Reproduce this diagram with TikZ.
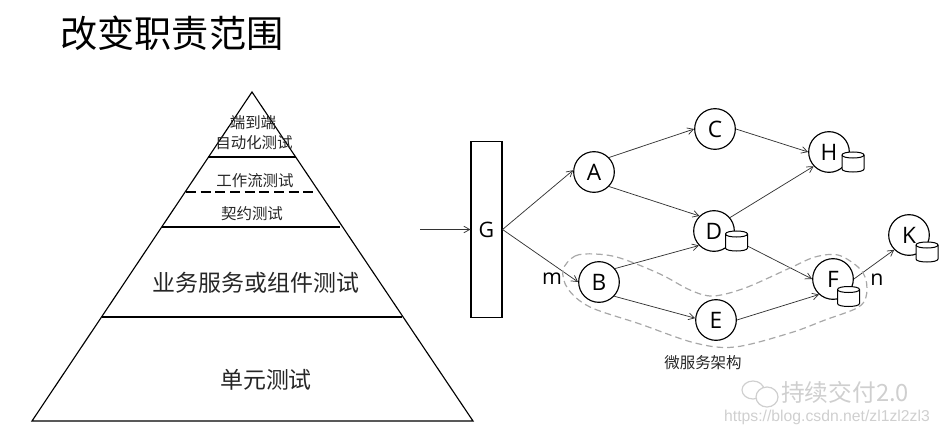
\documentclass[tikz,border=0pt]{standalone}
\usepackage{fontspec}
\setmainfont{Open Sans}
\newfontfamily\cjk{Noto Sans CJK SC}
\newfontfamily\wmfont{Liberation Sans}
\usetikzlibrary{arrows.meta}
\definecolor{edgec}{HTML}{333333}
\definecolor{blobc}{HTML}{A8A8A8}
\definecolor{wmc}{HTML}{CFCFCF}
\tikzset{
  x=0.75pt,y=-0.75pt,
  >={Straight Barb[length=4.5pt,width=5pt]},
  svc/.style={circle,draw=black,line width=0.85pt,fill=white,minimum size=30.5pt,inner sep=0pt,font=\fontsize{17}{19}\selectfont},
  edge/.style={draw=edgec,line width=0.55pt,->},
  store/.pic={
    \draw[black,line width=0.75pt,fill=white] (-11,-7) -- (-11,7) .. controls (-11,11) and (11,11) .. (11,7) -- (11,-7) .. controls (11,-11) and (-11,-11) .. (-11,-7) -- cycle;
    \draw[black,line width=0.75pt] (-11,-7) .. controls (-11,-3) and (11,-3) .. (11,-7);
  },
  tier/.style={draw=black,line width=1.6pt},
  lbl/.style={inner sep=0pt,text=black!85,font=\cjk\fontsize{11.6}{14}\selectfont},
  biglbl/.style={inner sep=0pt,text=black!85,font=\cjk\fontsize{17.2}{20}\selectfont},
  letter/.style={inner sep=0pt,font=\fontsize{16}{18}\selectfont},
}
\begin{document}
\begin{tikzpicture}
\useasboundingbox (0,0) rectangle (940,435);
% title
\node[inner sep=0pt,font=\cjk\fontsize{27.9}{30}\selectfont] (title) at (172,33) {改变职责范围};
% pyramid
\coordinate (apex) at (252,92);
\coordinate (bl) at (32,421);
\coordinate (br) at (473,421);
\draw[draw=black,line width=0.85pt,line join=miter] (apex) -- (bl) -- (br) -- cycle;
\coordinate (t1l) at (208,157); \coordinate (t1r) at (296,157);
\coordinate (t2l) at (186,192); \coordinate (t2r) at (318,192);
\coordinate (t3l) at (162,227); \coordinate (t3r) at (340,227);
\coordinate (t4l) at (102,317); \coordinate (t4r) at (402,317);
\draw[tier] (t1l) -- (t1r);
\draw[tier,dash pattern=on 7.5pt off 3.5pt] (t2l) -- (t2r);
\draw[tier] (t3l) -- (t3r);
\draw[tier] (t4l) -- (t4r);
\node[lbl] (p1a) at (253,123) {端到端};
\node[lbl] (p1b) at (254,143) {自动化测试};
\node[lbl] (p2) at (255,181) {工作流测试};
\node[lbl] (p3) at (252,214) {契约测试};
\node[biglbl] (p4) at (256,283) {业务服务或组件测试};
\node[biglbl] (p5) at (266,380) {单元测试};
% gateway
\node[draw=black,line width=0.85pt,fill=white,minimum width=23.2pt,minimum height=132.5pt,inner sep=0pt,font=\fontsize{16}{18}\selectfont] (G) at (486.5,229.5) {G};
\coordinate (in) at (420,229.5);
\draw[edge] (in) -- (G.west);
% services
\node[svc] (A) at (594,172) {A};
\node[svc] (C) at (715,129) {C};
\node[svc] (H) at (829,152) {H};
\node[svc] (D) at (714,231) {D};
\node[svc] (B) at (599,282) {B};
\node[svc] (E) at (716,320) {E};
\node[svc] (F) at (833,279) {F};
\node[svc] (K) at (909,235) {K};
% connectors
\draw[edge] (G.east) -- (A.175);
\draw[edge] (G.east) -- (B.180);
\draw[edge] (A.44) -- (C.180);
\draw[edge] (A.-44) -- (D.134);
\draw[edge] (C.0) -- (H.180);
\draw[edge] (D.40) -- (H.223);
\draw[edge] (B.40) -- (D.224);
\draw[edge] (B.-43) -- (E.175);
\draw[edge] (E.0) -- (F.228);
\draw[edge] (D.-22) -- (F.180);
\draw[edge] (F.east) -- (K.225);
% data stores
\pic at (853,162) {store};
\pic at (736.5,241) {store};
\pic at (848.5,296.5) {store};
\pic at (927,252) {store};
% boundary
\draw[blobc,line width=0.9pt,dash pattern=on 5pt off 3pt] plot[smooth cycle,tension=0.55] coordinates {
 (563,270) (575,256) (595,254) (620,258) (660,274) (690,290) (713,296) (745,288)
 (790,268) (815,257) (838,255) (858,267) (866,280) (866,297) (857,308)
 (825,320) (790,333) (735,347) (695,343) (640,324) (590,307) (568,289)};
% captions
\node[letter] (m) at (552,279) {m};
\node[letter] (n) at (877,280) {n};
\node[lbl] (cap) at (703,363) {微服务架构};
% watermark
\draw[wmc,line width=0.9pt] (753,390) ellipse (11 and 9);
\draw[wmc,line width=0.9pt,fill=white] (767,397) ellipse (11 and 10);
\node[inner sep=0pt,text=wmc,font=\cjk\fontsize{17.8}{22}\selectfont] (wm) at (845,392) {持续交付2.0};
\node[inner sep=0pt,text=wmc,font=\wmfont\fontsize{11.8}{14}\selectfont] (url) at (827,417) {https://blog.csdn.net/zl1zl2zl3};
\end{tikzpicture}
\end{document}
